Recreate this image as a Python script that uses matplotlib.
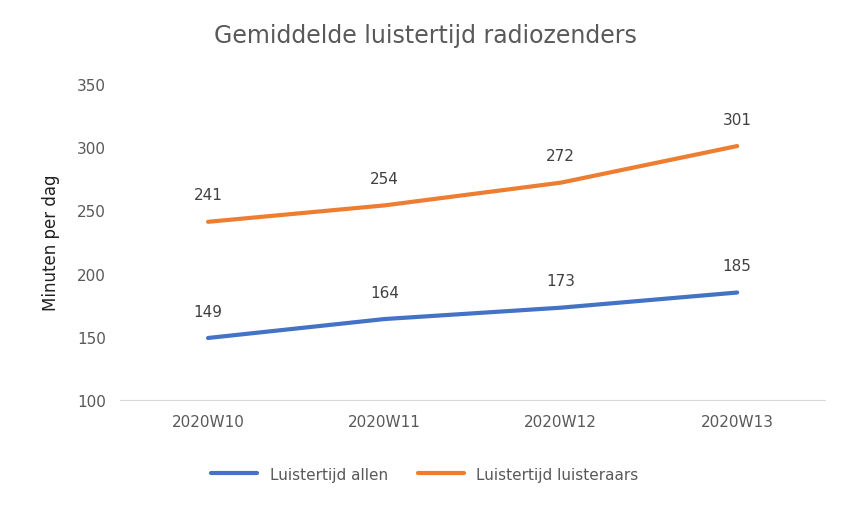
import matplotlib
matplotlib.use("Agg")
import matplotlib.pyplot as plt

weeks = ["2020W10", "2020W11", "2020W12", "2020W13"]
allen = [149, 164, 173, 185]
luisteraars = [241, 254, 272, 301]
yticks = [100, 150, 200, 250, 300, 350]

grey = "#595959"
fig = plt.figure(figsize=(8.5, 5.1), dpi=100)
ax = fig.add_axes([0.141, 0.214, 0.830, 0.619])
x = range(len(weeks))
ax.plot(x, allen, color="#4472C4", lw=3, label="Luistertijd allen", solid_capstyle="round")
ax.plot(x, luisteraars, color="#ED7D31", lw=3, label="Luistertijd luisteraars", solid_capstyle="round")
for xi, v in zip(x, allen):
    ax.annotate(str(v), (xi, v), xytext=(0, 14), textcoords="offset points", ha="center", va="bottom", fontsize=11, color="#404040")
for xi, v in zip(x, luisteraars):
    ax.annotate(str(v), (xi, v), xytext=(0, 14), textcoords="offset points", ha="center", va="bottom", fontsize=11, color="#404040")
ax.set_xlim(-0.5, 3.5)
ax.set_ylim(100, 350)
ax.set_yticks(yticks)
ax.set_xticks(list(x))
ax.set_xticklabels(weeks)
ax.tick_params(axis="both", length=0, colors=grey, labelsize=11, pad=10)
for s in ["top", "right", "left"]:
    ax.spines[s].set_visible(False)
ax.spines["bottom"].set_color("#D9D9D9")
ax.set_ylabel("Minuten per dag", fontsize=12, color="#202020", labelpad=12)
fig.text(0.5, 0.915, "Gemiddelde luistertijd radiozenders", ha="center", fontsize=17, color=grey)
fig.legend(loc="center", bbox_to_anchor=(0.5, 0.068), ncol=2, frameon=False, fontsize=11, labelcolor=grey, handlelength=3, columnspacing=2)
fig.savefig("out.png")
